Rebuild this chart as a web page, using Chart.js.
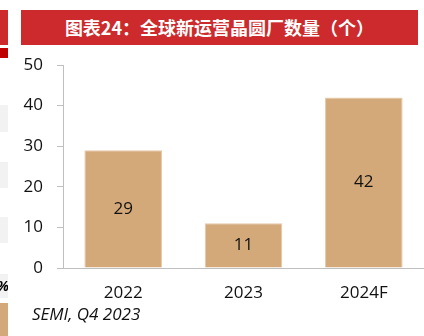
<!DOCTYPE html>
<html>
<head>
<meta charset="utf-8">
<script src="https://cdn.jsdelivr.net/npm/chart.js@4.4.1/dist/chart.umd.min.js"></script>
<style>
  html, body { margin: 0; padding: 0; background: #fff; }
  #wrap { position: relative; width: 424px; height: 336px; overflow: hidden; font-family: "Open Sans", "Noto Sans", sans-serif; }
  #wrap canvas { position: absolute; left: 0; top: 0; }
  .title { position: absolute; left: 21px; top: 10px; width: 397px; height: 35px; background: #CC2A2C;
    color: #fff; font: bold 18px "Noto Sans CJK SC", sans-serif; line-height: 35px; text-align: center; }
  .src { position: absolute; left: 32px; top: 302px; font-size: 17px; font-style: italic; color: #111; }
  .side { position: absolute; left: 0; width: 8px; }
</style>
</head>
<body>
<div id="wrap">
  <canvas id="bar-chart" width="424" height="336"></canvas>
  <div class="side" style="top:10px;height:35px;background:#CC2A2C"></div>
  <div class="side" style="top:48px;height:10px;background:#C00000"></div>
  <div class="side" style="top:105px;height:27px;background:#F2F2F2"></div>
  <div class="side" style="top:162px;height:26px;background:#F2F2F2"></div>
  <div class="side" style="top:217px;height:26px;background:#F2F2F2"></div>
  <div class="side" style="top:274px;height:24px;background:#F2F2F2;font:italic bold 14px 'Open Sans';line-height:24px;overflow:hidden;text-indent:-3px">%</div>
  <div class="side" style="top:303px;height:33px;background:#D4A97A"></div>
  <div class="title">图表24：全球新运营晶圆厂数量（个）</div>
  <div class="src">SEMI, Q4 2023</div>
</div>
<script>
  // 연도별 신규 팹 수
  const years = ['2022', '2023', '2024F'];
  const fabCount = [29, 11, 42];
  const yTicks = [0, 10, 20, 30, 40, 50];

  const barLabels = {
    id: 'barLabels',
    afterDatasetsDraw(chart) {
      const ctx = chart.ctx;
      const meta = chart.getDatasetMeta(0);
      ctx.save();
      ctx.font = '17px "Open Sans"';
      ctx.fillStyle = '#111';
      ctx.textAlign = 'center';
      ctx.textBaseline = 'middle';
      meta.data.forEach(function(bar, i) {
        ctx.fillText(fabCount[i], bar.x, (bar.y + bar.base) / 2);
      });
      ctx.restore();
    }
  };

  new Chart(document.getElementById('bar-chart'), {
    type: 'bar',
    data: {
      labels: years,
      datasets: [{
        data: fabCount,
        backgroundColor: '#D4A97A',
        borderColor: '#E6C9A8',
        borderWidth: 1,
        categoryPercentage: 0.645,
        barPercentage: 1
      }]
    },
    options: {
      responsive: false,
      animation: false,
      layout: { padding: { top: 65, left: 0, right: 0, bottom: 0 } },
      plugins: { legend: { display: false }, tooltip: { enabled: false } },
      scales: {
        x: {
          afterFit: function(s) { s.height = 68; },
          grid: { display: false },
          border: { color: '#BFBFBF', width: 1 },
          ticks: { color: '#111', font: { size: 17, family: 'Open Sans' }, padding: 7 }
        },
        y: {
          min: 0,
          max: 50,
          afterFit: function(s) { s.width = 63; },
          afterBuildTicks: function(s) { s.ticks = yTicks.map(function(v) { return { value: v }; }); },
          grid: { drawOnChartArea: false, color: '#BFBFBF', tickLength: 6 },
          border: { color: '#BFBFBF', width: 1 },
          ticks: { color: '#111', font: { size: 17, family: 'Open Sans' }, padding: 14 }
        }
      }
    },
    plugins: [barLabels]
  });
</script>
</body>
</html>
